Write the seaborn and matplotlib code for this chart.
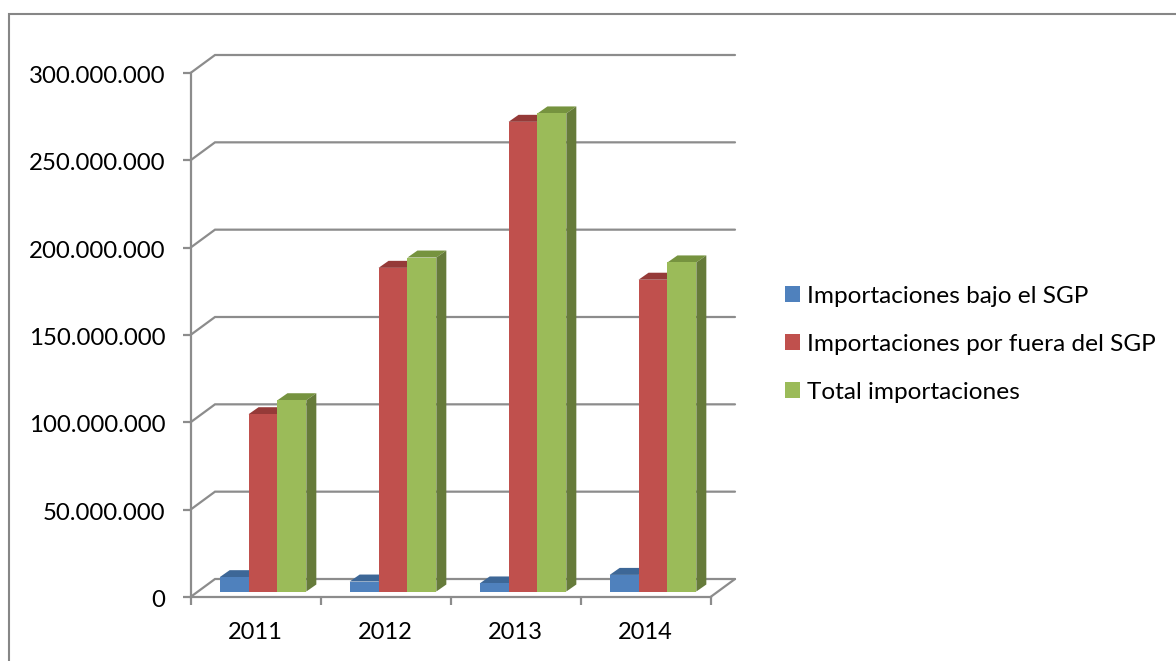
import matplotlib
matplotlib.use("Agg")
import matplotlib.pyplot as plt
from matplotlib.lines import Line2D
from matplotlib.patches import Polygon, Patch
from matplotlib.transforms import ScaledTranslation
import pandas as pd
import seaborn as sns

years = ["2011", "2012", "2013", "2014"]
bajo_sgp = [8200000, 5700000, 4600000, 9500000]
fuera_sgp = [101500000, 185300000, 268900000, 178500000]
total = [109500000, 191200000, 273700000, 188400000]
series_names = ["Importaciones bajo el SGP", "Importaciones por fuera del SGP", "Total importaciones"]
y_ticks = [0, 50000000, 100000000, 150000000, 200000000, 250000000, 300000000]
y_labels = ["0", "50.000.000", "100.000.000", "150.000.000", "200.000.000", "250.000.000", "300.000.000"]

front_colors = ["#4F81BD", "#C0504D", "#9BBB59"]
top_colors = ["#3D6797", "#953A38", "#76933F"]
side_colors = ["#345880", "#7F3331", "#667B3A"]
GRID = "#8C8C8C"

W, H = 1176, 661
sns.set_theme(style="white")
plt.rcParams["font.family"] = ["Lato", "DejaVu Sans"]

df = pd.DataFrame({
    "year": years * 3,
    "serie": [s for s in series_names for _ in years],
    "valor": bajo_sgp + fuera_sgp + total,
})

fig = plt.figure(figsize=(W / 100, H / 100), dpi=100, facecolor="white")
L, R, T, B = 190.5, 710.5, 73, 597
ax = fig.add_axes([L / W, 1 - B / H, (R - L) / W, (B - T) / H], facecolor="none")

sns.barplot(data=df, x="year", y="valor", hue="serie", hue_order=series_names,
            order=years, palette=front_colors, saturation=1, width=2 / 3, gap=0,
            dodge=True, linewidth=0, legend=False, ax=ax, zorder=3)
ax.set_xlim(-0.5, 3.5)
ax.set_ylim(0, 300000000)
ax.set_xlabel("")
ax.set_ylabel("")

# pixel -> data conversions
px_x = 4 / (R - L)
px_y = 300000000 / (B - T)

# floor/wall perspective
back_dx, back_dy = 24.5 * px_x, 18 * px_y
LW = 1.6
for v in y_ticks:
    ax.add_line(Line2D([-0.5, -0.5 + back_dx, 3.5 + back_dx], [v, v + back_dy, v + back_dy],
                       color=GRID, lw=LW, zorder=1, clip_on=False, solid_joinstyle="miter"))
ax.add_line(Line2D([3.5, 3.5 + back_dx], [0, back_dy], color=GRID, lw=LW, zorder=1, clip_on=False))

# bars moved into the mid plane, with depth faces
shift_x, shift_y = 7.5 * px_x, 5.5 * px_y
depth_x, depth_y = 10 * px_x, 7 * px_y
for i, cont in enumerate(ax.containers):
    for bar in cont:
        bar.set_x(bar.get_x() + shift_x)
        bar.set_y(shift_y)
        bar.set_clip_on(False)
        bar.set_zorder(3 + i)
        x0, x1 = bar.get_x(), bar.get_x() + bar.get_width()
        y0, y1 = shift_y, shift_y + bar.get_height()
        ax.add_patch(Polygon([(x0, y1), (x1, y1), (x1 + depth_x, y1 + depth_y), (x0 + depth_x, y1 + depth_y)],
                             closed=True, fc=top_colors[i], ec="none", zorder=2.9 + i, clip_on=False))
        ax.add_patch(Polygon([(x1, y0), (x1 + depth_x, y0 + depth_y), (x1 + depth_x, y1 + depth_y), (x1, y1)],
                             closed=True, fc=side_colors[i], ec="none", zorder=2.9 + i, clip_on=False))

for s in ["top", "right"]:
    ax.spines[s].set_visible(False)
for s in ["left", "bottom"]:
    ax.spines[s].set_color(GRID)
    ax.spines[s].set_linewidth(LW)
    ax.spines[s].set_zorder(2)

ax.set_yticks(y_ticks, y_labels)
ax.tick_params(axis="y", length=5.8, width=LW, color=GRID, pad=12.5, labelsize=17.3,
               labelcolor="black", left=True)
for lab in ax.get_yticklabels():
    lab.set_transform(lab.get_transform() + ScaledTranslation(0, -1.5 / 100, fig.dpi_scale_trans))
ax.set_xticks(range(len(years)), years)
ax.tick_params(axis="x", which="major", length=0, pad=18, labelsize=17, labelcolor="black")
ax.set_xticks([-0.5, 0.5, 1.5, 2.5, 3.5], minor=True)
ax.tick_params(axis="x", which="minor", length=5.5, width=LW, color=GRID, bottom=True)

handles = [Patch(fc=c, ec="none") for c in front_colors]
fig.legend(handles, series_names, loc="upper left", bbox_to_anchor=(785 / W, 1 - 286 / H),
           bbox_transform=fig.transFigure, frameon=False, fontsize=17.6, ncols=1,
           handlelength=0.62, handleheight=0.62, handletextpad=0.26, labelspacing=1.1,
           borderpad=0, borderaxespad=0, labelcolor="black")

fig.add_artist(Line2D([8.5 / W, 8.5 / W, 1.0], [0, 1 - 14 / H, 1 - 14 / H],
                      transform=fig.transFigure, color="#868686", lw=1.5, solid_joinstyle="miter"))

fig.savefig("out.png", dpi=100, facecolor="white")
